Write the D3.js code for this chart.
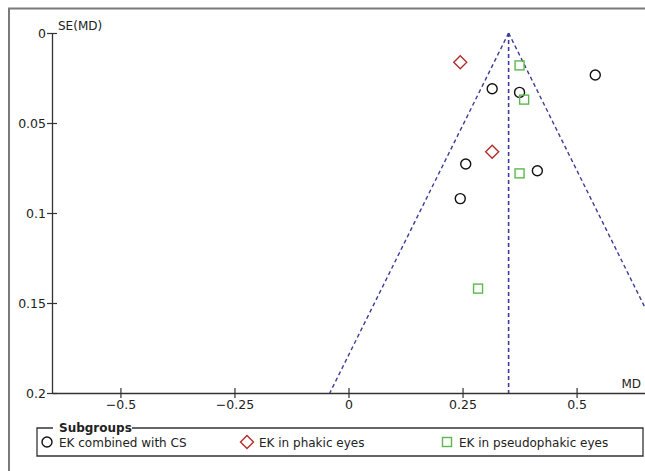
<!DOCTYPE html>
<html><head><meta charset="utf-8">
<script src="https://cdn.jsdelivr.net/npm/d3@7"></script>
<style>
html,body{margin:0;padding:0;background:#fff;}
svg text{font-family:"DejaVu Sans","Lucida Grande",sans-serif;fill:#222;}
</style></head><body>
<svg id="chart" width="645" height="471"></svg>
<script>
// Data
const pooledMD = 0.351;
const csMD = [0.541, 0.315, 0.375, 0.257, 0.414, 0.245];
const csSE = [0.0233, 0.031, 0.033, 0.0728, 0.0765, 0.092];
const phakicMD = [0.245, 0.315];
const phakicSE = [0.0163, 0.066];
const pseudoMD = [0.375, 0.385, 0.375, 0.284];
const pseudoSE = [0.018, 0.037, 0.078, 0.142];
const xTicks = [-0.5, -0.25, 0, 0.25, 0.5];
const yTicks = [0, 0.05, 0.1, 0.15, 0.2];
const subgroupNames = ["EK combined with CS", "EK in phakic eyes", "EK in pseudophakic eyes"];

const svg = d3.select("#chart");
const x = d3.scaleLinear().domain([-0.65, 0.65]).range([52, 645]);
const y = d3.scaleLinear().domain([0, 0.2]).range([33, 393]);

// outer frame (left + top)
svg.append("path").attr("d", "M9,471 V8.5 H645").attr("fill", "none")
  .attr("stroke", "#7a7a7a").attr("stroke-width", 2);

// clip for funnel
svg.append("clipPath").attr("id", "plotclip").append("rect")
  .attr("x", 52).attr("y", 20).attr("width", 593).attr("height", 373);

const fun = svg.append("g").attr("clip-path", "url(#plotclip)");
const funColor = "#3b3b99";
const seMax = 0.2;
fun.append("line")
  .attr("x1", x(pooledMD)).attr("y1", y(0)).attr("x2", x(pooledMD)).attr("y2", y(seMax))
  .attr("stroke", funColor).attr("stroke-width", 1.6).attr("stroke-dasharray", "4,3");
[-1, 1].forEach(s => {
  fun.append("line")
    .attr("x1", x(pooledMD)).attr("y1", y(0))
    .attr("x2", x(pooledMD + s * 1.96 * seMax)).attr("y2", y(seMax))
    .attr("stroke", funColor).attr("stroke-width", 1.4).attr("stroke-dasharray", "4,3");
});

// axes
const axisColor = "#333";
const yAxis = d3.axisLeft(y).tickValues(yTicks).tickFormat(d => d === 0 ? "0" : String(d))
  .tickSizeOuter(0).tickSizeInner(5).tickPadding(3);
const gy = svg.append("g").attr("transform", "translate(52,0)").call(yAxis);
gy.select(".domain").attr("stroke", axisColor).attr("stroke-width", 1.3);
gy.selectAll(".tick line").attr("x1", -5).attr("x2", 5).attr("stroke", axisColor).attr("stroke-width", 1.2);
gy.selectAll(".tick text").attr("font-size", 12.5).attr("fill", "#222").attr("x", -6);

const xAxis = d3.axisBottom(x).tickValues(xTicks)
  .tickFormat(d => d === 0 ? "0" : (d < 0 ? "\u2212" + Math.abs(d) : String(d)))
  .tickSizeOuter(0).tickSizeInner(5).tickPadding(4);
const gx = svg.append("g").attr("transform", "translate(0,393)").call(xAxis);
gx.select(".domain").attr("stroke", axisColor).attr("stroke-width", 1.3);
gx.selectAll(".tick line").attr("y1", -5).attr("y2", 5).attr("stroke", axisColor).attr("stroke-width", 1.2);
gx.selectAll(".tick text").attr("font-size", 12.5).attr("fill", "#222").attr("y", 7);

svg.append("text").attr("x", 58).attr("y", 30).attr("font-size", 12).text("SE(MD)");
svg.append("text").attr("x", 641).attr("y", 388).attr("text-anchor", "end").attr("font-size", 12).text("MD");

// markers
const circleColor = "#111", diamondColor = "#b52a2a", squareColor = "#5cb84e";
function drawCircle(g, cx, cy) {
  g.append("circle").attr("cx", cx).attr("cy", cy).attr("r", 5)
    .attr("fill", "none").attr("stroke", circleColor).attr("stroke-width", 1.4);
}
function drawDiamond(g, cx, cy) {
  g.append("path").attr("d", `M${cx},${cy-6.5} L${cx+6.5},${cy} L${cx},${cy+6.5} L${cx-6.5},${cy} Z`)
    .attr("fill", "none").attr("stroke", diamondColor).attr("stroke-width", 1.4);
}
function drawSquare(g, cx, cy) {
  g.append("rect").attr("x", cx - 4.5).attr("y", cy - 4.5).attr("width", 9).attr("height", 9)
    .attr("fill", "none").attr("stroke", squareColor).attr("stroke-width", 1.4);
}
const pts = svg.append("g");
csMD.forEach((m, i) => drawCircle(pts, x(m), y(csSE[i])));
phakicMD.forEach((m, i) => drawDiamond(pts, x(m), y(phakicSE[i])));
pseudoMD.forEach((m, i) => drawSquare(pts, x(m), y(pseudoSE[i])));

// legend
const lg = svg.append("g");
const lTop = 428, lBot = 456, lLeft = 37, lRight = 643;
lg.append("path").attr("d", `M53,${lTop} H${lLeft} V${lBot} H${lRight} V${lTop} H132`)
  .attr("fill", "none").attr("stroke", "#333").attr("stroke-width", 1.3);
lg.append("text").attr("x", 59).attr("y", lTop + 4).attr("font-size", 12).attr("font-weight", "bold").text("Subgroups");
const ly = 442;
drawCircle(lg, 47, ly);
lg.append("text").attr("x", 59).attr("y", ly + 4.5).attr("font-size", 12).text(subgroupNames[0]);
drawDiamond(lg, 247, ly);
lg.append("text").attr("x", 259).attr("y", ly + 4.5).attr("font-size", 12).text(subgroupNames[1]);
drawSquare(lg, 447, ly);
lg.append("text").attr("x", 459).attr("y", ly + 4.5).attr("font-size", 12).text(subgroupNames[2]);
</script>
</body></html>
